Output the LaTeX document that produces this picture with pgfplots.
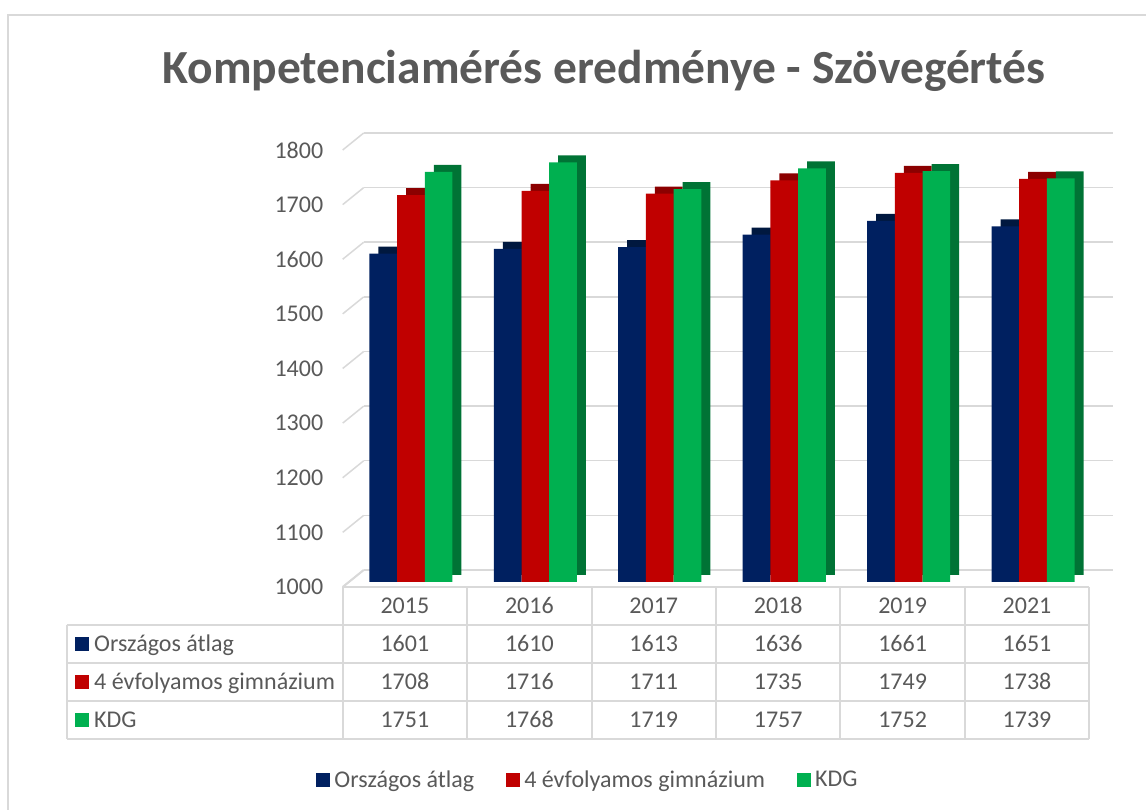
\documentclass[border=0pt]{standalone}
\usepackage{pgfplots}
\pgfplotsset{compat=1.18}
\usepackage{pgfplotstable}
\usepackage{fontspec}
\setmainfont{Carlito}
\definecolor{navy}{HTML}{002060}
\definecolor{navyd}{HTML}{00183F}
\definecolor{redb}{HTML}{C00000}
\definecolor{redd}{HTML}{8B0000}
\definecolor{greenb}{HTML}{00B050}
\definecolor{greend}{HTML}{007335}
\definecolor{txt}{HTML}{595959}
\definecolor{gridc}{HTML}{D9D9D9}

\pgfplotstableread{
x year ors gim kdg
0 2015 1601 1708 1751
1 2016 1610 1716 1768
2 2017 1613 1711 1719
3 2018 1636 1735 1757
4 2019 1661 1749 1752
5 2021 1651 1738 1739
}\data

\begin{document}
\begin{tikzpicture}
\begin{scope}[x=1pt,y=1pt]
\useasboundingbox (0,0) rectangle (1146,810);
\draw[gridc,line width=2pt] (8.3,-5) -- (8.3,795) -- (1150,795);
\node[font=\fontsize{47.5}{55}\selectfont\bfseries, text=txt] at (604,739) {Kompetenciamérés eredménye - Szövegértés};
\end{scope}

% back wall with gridlines
\begin{axis}[at={(363.7pt,240pt)}, anchor=south west, scale only axis,
  width=749pt, height=437pt, xmin=-0.5, xmax=5.5, ymin=1000, ymax=1800,
  axis line style={draw=none}, xtick=\empty, ytick={1000,1100,...,1800},
  yticklabels={}, major tick length=0pt, ymajorgrids,
  grid style={gridc, line width=1.5pt}, clip=false]
\pgfplotsinvokeforeach{1000,1100,1200,1300,1400,1500,1600,1700,1800}{
  \draw[gridc, line width=1.5pt] ([shift={(-21pt,-17pt)}]axis cs:-0.5,#1) -- (axis cs:-0.5,#1);
}
\end{axis}

% bars
\begin{axis}[at={(348.7pt,228pt)}, anchor=south west, scale only axis,
  width=746.6pt, height=437pt, xmin=-0.5, xmax=5.5, ymin=1000, ymax=1800,
  axis line style={draw=none}, xtick=\empty, ytick={1000,1100,...,1800},
  major tick length=0pt,
  yticklabel style={font=\fontsize{24}{28}\selectfont, text=txt, xshift=-22pt, yshift=-5pt},
  /pgf/number format/assume math mode=true, /pgf/number format/1000 sep={},
  ybar, bar width=27.7pt, clip=false,
  legend image code/.code={\fill[#1, draw=none] (0pt,-7pt) rectangle (14pt,7pt);},
  legend style={at={(0.3205,-0.453)}, anchor=center, draw=none, fill=none,
    legend columns=-1, font=\fontsize{24}{28}\selectfont, text=txt,
    /tikz/every even column/.append style={column sep=30pt},
    /tikz/every odd column/.append style={column sep=2pt}},
  ]
\addplot[fill=navyd, draw=none, bar shift=-18.7pt, yshift=7pt, forget plot] table[x=x,y=ors]{\data};
\addplot[fill=redd, draw=none, bar shift=9pt, yshift=7pt, forget plot] table[x=x,y=gim]{\data};
\addplot[fill=greend, draw=none, bar shift=36.7pt, yshift=7pt, forget plot] table[x=x,y=kdg]{\data};
\addplot[fill=navy, draw=none, bar shift=-27.7pt] table[x=x,y=ors]{\data};
\addplot[fill=redb, draw=none, bar shift=0pt] table[x=x,y=gim]{\data};
\addplot[fill=greenb, draw=none, bar shift=27.7pt] table[x=x,y=kdg]{\data};
\legend{Országos átlag, 4 évfolyamos gimnázium, KDG}
\end{axis}

% data table
\begin{scope}[x=1pt,y=1pt, font=\fontsize{24}{28}\selectfont]
\draw[gridc, line width=2pt] (342.7,223) -- (1089.3,223);
\draw[gridc, line width=2pt] (342.7,223) -- (363.7,240);
\foreach \yy in {185,147,109,71} {\draw[gridc, line width=2pt] (66.7,\yy) -- (1089.3,\yy);}
\foreach \k in {0,...,6} {\draw[gridc, line width=2pt] ({342.7+\k*124.43},223) -- ({342.7+\k*124.43},71);}
\draw[gridc, line width=2pt] (66.7,185) -- (66.7,71);
\fill[navy] (75,159) rectangle (89,173);
\fill[redb] (75,121) rectangle (89,135);
\fill[greenb] (75,83) rectangle (89,97);
\node[anchor=base west, inner sep=0pt, text=txt] at (94,158.3) {Országos átlag};
\node[anchor=base west, inner sep=0pt, text=txt] at (94,120.3) {4 évfolyamos gimnázium};
\node[anchor=base west, inner sep=0pt, text=txt] at (94,82.3) {KDG};
\foreach \r in {0,...,5} {
  \pgfmathsetmacro{\cx}{342.7+\r*124.43+62.2}
  \pgfplotstablegetelem{\r}{year}\of\data
  \node[anchor=base, inner sep=0pt, text=txt] at (\cx,196.3) {\pgfplotsretval};
  \pgfplotstablegetelem{\r}{ors}\of\data
  \node[anchor=base, inner sep=0pt, text=txt] at (\cx,158.3) {\pgfplotsretval};
  \pgfplotstablegetelem{\r}{gim}\of\data
  \node[anchor=base, inner sep=0pt, text=txt] at (\cx,120.3) {\pgfplotsretval};
  \pgfplotstablegetelem{\r}{kdg}\of\data
  \node[anchor=base, inner sep=0pt, text=txt] at (\cx,82.3) {\pgfplotsretval};
}
\end{scope}
\end{tikzpicture}
\end{document}
